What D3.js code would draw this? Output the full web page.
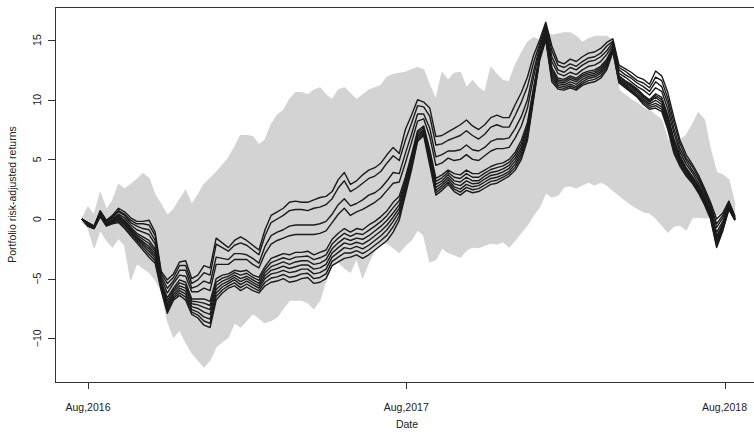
<!DOCTYPE html>
<html>
<head>
<meta charset="utf-8">
<script src="https://cdn.jsdelivr.net/npm/d3@7"></script>
<style>
  html, body { margin: 0; padding: 0; background: #fff; }
  svg { display: block; font-family: "Liberation Sans", Arial, Helvetica, sans-serif; }
</style>
</head>
<body>
<svg id="chart" width="754" height="433"></svg>
<script>
// ---------- DATA (weekly observations starting 2016-07-25) ----------
const startDate = "2016-07-25";
const xTickDates = ["2016-08-01", "2017-08-01", "2018-08-01"];
const xTickLabels = ["Aug,2016", "Aug,2017", "Aug,2018"];
const yTicks = [-10, -5, 0, 5, 10, 15];
const yTickLabels = ["\u221210", "\u22125", "0", "5", "10", "15"];

// envelope of the grey (other) portfolios
const grayUpper = [0,1.0,0.3,2.2,0.8,1.5,2.9,2.5,2.9,3.3,
 3.8,3.4,2.0,1.2,0.3,0.8,1.6,2.4,1.2,2.0,
 2.9,3.4,3.9,4.5,5.1,6.0,7.0,7.0,6.9,6.2,
 6.6,7.9,8.7,9.1,10.0,10.6,10.6,10.4,10.8,11.0,
 10.4,10.0,10.8,11.0,10.5,10.0,10.4,10.8,11.0,11.2,
 11.9,12.1,12.2,12.3,12.5,12.7,12.5,11.2,10.0,12.3,
 11.6,12.2,12.3,11.0,11.6,11.0,10.6,12.7,12.1,11.6,
 11.5,12.9,13.9,14.8,15.2,15.0,15.7,15.4,15.5,15.6,
 15.6,15.3,14.8,15.1,15.3,15.3,15.3,15.0,10.8,10.4,
 10.0,9.7,9.3,9.1,8.7,8.3,6.6,6.6,6.6,7.0,
 7.9,8.9,8.3,5.8,3.9,3.7,3.3,1.2];
const grayLower = [-0.2,-0.75,-2.4,-0.9,-1.75,-2.35,-1.6,-2.2,-5.1,-3.7,
 -4.1,-4.45,-5.1,-6.0,-8.5,-9.9,-9.3,-10.3,-11.2,-11.8,
 -12.4,-11.8,-10.7,-10.3,-9.9,-8.7,-9.05,-8.5,-7.9,-8.3,
 -8.7,-8.5,-8.2,-7.5,-6.8,-6.8,-6.8,-7.0,-7.5,-6.8,
 -5.1,-3.9,-3.6,-4.1,-4.45,-3.3,-4.9,-3.6,-2.6,-2.1,
 -2.0,-2.4,-2.8,-2.2,-1.75,-0.9,-1.35,-3.6,-3.4,-2.4,
 -2.8,-3.0,-3.2,-2.6,-2.35,-2.4,-2.2,-2.0,-2.1,-1.9,
 -2.35,-1.75,-1.1,-0.5,0.35,1.0,2.2,1.85,2.0,2.7,
 2.8,2.6,2.85,3.1,2.85,3.1,2.85,2.4,2.0,1.6,
 1.2,0.9,0.6,0.5,0.1,-0.5,-1.1,-0.6,-0.5,-0.9,
 0.1,0.15,0.1,0.15,0.35,0.35,0.75,-0.1];

// highlighted (black) portfolios
const blackLine1 = [0,-0.3,-0.6,0.7,-0.1,0.3,0.9,0.6,0.1,-0.2,
 -0.2,-0.1,-1.1,-4.4,-5.1,-4.6,-3.6,-3.5,-5.0,-4.7,
 -3.9,-4.1,-1.6,-2.0,-2.4,-1.8,-1.5,-1.8,-2.2,-2.6,
 -0.9,0.3,0.6,0.9,1.4,1.5,1.4,1.4,1.6,1.8,
 1.9,2.3,3.3,3.9,2.9,3.2,3.7,4.1,4.3,4.7,
 5.4,6.0,5.5,7.5,8.7,10.0,9.8,9.3,6.9,7.0,
 7.3,7.6,7.9,8.3,7.8,7.5,7.9,8.5,8.7,8.5,
 8.5,9.6,10.6,11.9,13.7,15.0,16.5,14.5,13.2,13.0,
 13.4,13.2,13.6,13.9,14.0,14.3,14.8,15.1,12.9,12.6,
 12.3,11.9,11.7,11.3,12.4,12.0,10.6,8.5,6.6,5.4,
 4.6,3.7,2.6,1.4,0.0,0.5,1.5,0.2];
const blackLine2 = [0,-0.3,-0.6,0.6,-0.2,0.2,0.7,0.4,-0.1,-0.4,
 -0.4,-0.5,-1.4,-4.6,-5.4,-4.9,-3.9,-3.9,-5.4,-5.1,
 -4.5,-4.7,-2.1,-2.4,-2.7,-2.2,-2.0,-2.2,-2.6,-3.0,
 -1.4,-0.3,0.0,0.3,0.7,0.8,0.8,0.7,0.9,1.0,
 1.2,1.7,2.6,3.2,2.3,2.6,3.0,3.4,3.6,4.0,
 4.7,5.3,4.9,6.6,8.0,9.5,9.4,8.6,6.2,6.3,
 6.6,6.8,7.0,7.4,7.0,6.7,7.1,7.7,7.9,7.7,
 7.7,8.7,9.8,11.1,13.1,14.7,16.3,14.1,12.9,12.7,
 13.0,12.8,13.2,13.5,13.6,13.9,14.5,14.9,12.7,12.4,
 12.0,11.6,11.4,11.0,11.9,11.6,10.1,8.1,6.3,5.1,
 4.4,3.5,2.4,1.2,-0.4,0.3,1.4,0.2];
const blackLine3 = [0,-0.4,-0.6,0.6,-0.2,0.1,0.6,0.3,-0.3,-0.6,
 -0.8,-0.9,-1.8,-4.8,-5.8,-5.2,-4.3,-4.3,-5.8,-5.6,
 -5.2,-5.4,-3.2,-3.3,-3.4,-2.9,-2.9,-3.0,-3.3,-3.7,
 -2.3,-1.4,-1.1,-0.9,-0.6,-0.5,-0.5,-0.5,-0.5,-0.4,
 -0.2,0.4,1.2,1.7,1.1,1.3,1.6,2.0,2.2,2.6,
 3.2,3.9,3.8,5.5,7.1,8.8,8.8,7.6,5.2,5.4,
 5.7,5.7,5.8,6.2,5.8,5.7,6.0,6.5,6.7,6.7,
 6.8,7.6,8.6,10.0,12.4,14.4,16.1,13.6,12.5,12.3,
 12.7,12.5,12.9,13.2,13.3,13.6,14.1,14.8,12.5,12.1,
 11.8,11.4,11.1,10.7,11.5,11.1,9.7,7.6,5.9,4.9,
 4.1,3.3,2.2,1.0,-0.7,0.1,1.3,0.1];
const blackLine4 = [0,-0.4,-0.7,0.5,-0.3,0.0,0.4,0.1,-0.5,-0.9,
 -1.1,-1.3,-2.1,-5.0,-6.2,-5.4,-4.7,-4.8,-6.1,-6.1,
 -5.8,-6.0,-3.8,-3.8,-3.8,-3.4,-3.4,-3.4,-3.8,-4.1,
 -2.9,-2.1,-1.8,-1.6,-1.4,-1.3,-1.3,-1.3,-1.3,-1.2,
 -1.0,-0.3,0.4,0.9,0.3,0.6,0.8,1.1,1.4,1.8,
 2.4,3.0,3.1,4.7,6.4,8.2,8.4,6.9,4.5,4.7,
 5.1,4.9,5.0,5.4,5.0,4.9,5.3,5.7,5.9,5.9,
 6.0,6.8,7.8,9.3,11.9,14.2,15.8,13.2,12.2,12.0,
 12.3,12.1,12.5,12.8,12.9,13.2,13.8,14.6,12.2,11.9,
 11.5,11.1,10.8,10.4,11.0,10.7,9.2,7.2,5.6,4.6,
 3.9,3.0,2.0,0.8,-1.1,-0.2,1.2,0.1];
const blackLine5 = [0,-0.5,-0.7,0.5,-0.4,-0.1,0.3,-0.1,-0.7,-1.2,
 -1.5,-1.8,-2.5,-5.3,-6.6,-5.8,-5.1,-5.3,-6.7,-6.7,
 -6.7,-6.9,-5.0,-4.7,-4.6,-4.3,-4.4,-4.3,-4.7,-4.9,
 -4.0,-3.3,-3.1,-2.9,-3.0,-2.8,-2.8,-2.7,-3.0,-2.8,
 -2.6,-1.7,-1.2,-0.8,-1.1,-0.8,-0.9,-0.5,-0.2,0.2,
 0.7,1.4,1.9,3.5,5.4,7.4,7.8,5.8,3.4,3.7,
 4.1,3.8,3.7,4.1,3.8,3.8,4.1,4.4,4.6,4.7,
 5.0,5.6,6.6,8.1,11.0,13.8,15.6,12.7,11.8,11.7,
 12.0,11.8,12.2,12.4,12.5,12.8,13.4,14.4,12.0,11.6,
 11.3,10.9,10.4,10.0,10.5,10.2,8.7,6.7,5.3,4.3,
 3.6,2.8,1.8,0.6,-1.4,-0.4,1.1,0.0];
const blackLine6 = [0,-0.5,-0.7,0.45,-0.45,-0.15,0.2,-0.2,-0.8,-1.35,
 -1.7,-2.05,-2.7,-5.4,-6.85,-5.95,-5.35,-5.55,-6.9,-6.95,
 -7.05,-7.25,-5.3,-4.95,-4.8,-4.5,-4.7,-4.55,-4.9,-5.15,
 -4.25,-3.65,-3.45,-3.25,-3.4,-3.2,-3.15,-3.1,-3.4,-3.25,
 -3.0,-2.1,-1.6,-1.2,-1.45,-1.2,-1.3,-0.95,-0.6,-0.2,
 0.3,0.95,1.55,3.25,5.15,7.25,7.65,5.6,3.15,3.45,
 3.9,3.5,3.4,3.8,3.5,3.5,3.85,4.15,4.3,4.45,
 4.75,5.35,6.3,7.85,10.85,13.7,15.5,12.5,11.65,11.55,
 11.85,11.65,12.05,12.25,12.35,12.65,13.25,14.35,11.9,11.5,
 11.2,10.8,10.3,9.9,10.35,10.0,8.55,6.5,5.15,4.2,
 3.5,2.7,1.7,0.5,-1.55,-0.5,1.05,0.0];
const blackLine7 = [0,-0.5,-0.7,0.4,-0.5,-0.2,0.1,-0.3,-0.9,-1.5,
 -1.9,-2.3,-2.9,-5.5,-7.1,-6.1,-5.6,-5.8,-7.1,-7.2,
 -7.4,-7.6,-5.6,-5.2,-5.0,-4.7,-5.0,-4.8,-5.1,-5.4,
 -4.5,-4.0,-3.8,-3.6,-3.8,-3.6,-3.5,-3.5,-3.8,-3.7,
 -3.4,-2.5,-2.0,-1.6,-1.8,-1.6,-1.7,-1.4,-1.0,-0.6,
 -0.1,0.5,1.2,3.0,4.9,7.1,7.5,5.4,2.9,3.2,
 3.7,3.2,3.1,3.5,3.2,3.2,3.6,3.9,4.0,4.2,
 4.5,5.1,6.0,7.6,10.7,13.6,15.4,12.3,11.5,11.4,
 11.7,11.5,11.9,12.1,12.2,12.5,13.1,14.3,11.8,11.4,
 11.1,10.7,10.2,9.8,10.2,9.8,8.4,6.3,5.0,4.1,
 3.4,2.6,1.6,0.4,-1.7,-0.6,1.0,0.0];
const blackLine8 = [0,-0.55,-0.75,0.35,-0.5,-0.25,0.0,-0.4,-1.0,-1.6,
 -2.05,-2.5,-3.1,-5.65,-7.3,-6.3,-5.8,-6.05,-7.35,-7.5,
 -7.8,-8.0,-5.9,-5.45,-5.2,-4.9,-5.25,-5.0,-5.3,-5.6,
 -4.75,-4.3,-4.15,-3.95,-4.15,-4.0,-3.85,-3.85,-4.2,-4.1,
 -3.8,-2.85,-2.4,-2.0,-2.15,-1.95,-2.1,-1.8,-1.4,-1.0,
 -0.5,0.15,0.9,2.75,4.7,6.95,7.4,5.15,2.65,3.0,
 3.5,2.95,2.8,3.2,2.95,3.0,3.35,3.65,3.75,3.95,
 4.25,4.85,5.75,7.35,10.5,13.55,15.3,12.1,11.35,11.25,
 11.5,11.3,11.7,11.95,12.05,12.35,12.95,14.25,11.7,11.3,
 10.95,10.55,10.05,9.65,9.95,9.6,8.15,6.1,4.85,4.0,
 3.3,2.5,1.5,0.3,-1.9,-0.7,0.95,-0.05];
const blackLine9 = [0,-0.6,-0.8,0.3,-0.5,-0.3,-0.1,-0.5,-1.1,-1.7,
 -2.2,-2.7,-3.3,-5.8,-7.5,-6.5,-6.0,-6.3,-7.6,-7.8,
 -8.2,-8.4,-6.2,-5.7,-5.4,-5.1,-5.5,-5.2,-5.5,-5.8,
 -5.0,-4.6,-4.5,-4.3,-4.5,-4.4,-4.2,-4.2,-4.6,-4.5,
 -4.2,-3.2,-2.8,-2.4,-2.5,-2.3,-2.5,-2.2,-1.8,-1.4,
 -0.9,-0.2,0.6,2.5,4.5,6.8,7.3,4.9,2.4,2.8,
 3.3,2.7,2.5,2.9,2.7,2.8,3.1,3.4,3.5,3.7,
 4.0,4.6,5.5,7.1,10.3,13.5,15.2,11.9,11.2,11.1,
 11.3,11.1,11.5,11.8,11.9,12.2,12.8,14.2,11.6,11.2,
 10.8,10.4,9.9,9.5,9.7,9.4,7.9,5.9,4.7,3.9,
 3.2,2.4,1.4,0.2,-2.1,-0.8,0.9,-0.1];
const blackLine10 = [0,-0.6,-0.8,0.25,-0.55,-0.35,-0.2,-0.65,-1.25,-1.85,
 -2.4,-2.95,-3.5,-5.9,-7.7,-6.65,-6.2,-6.55,-7.8,-8.05,
 -8.55,-8.75,-6.5,-5.95,-5.6,-5.35,-5.75,-5.45,-5.75,-6.0,
 -5.3,-4.95,-4.85,-4.65,-4.9,-4.8,-4.6,-4.55,-5.0,-4.9,
 -4.6,-3.55,-3.2,-2.85,-2.85,-2.65,-2.9,-2.6,-2.2,-1.8,
 -1.35,-0.65,0.25,2.25,4.3,6.65,7.15,4.7,2.2,2.6,
 3.1,2.5,2.25,2.65,2.45,2.55,2.85,3.15,3.25,3.5,
 3.8,4.35,5.25,6.85,10.15,13.4,15.1,11.7,11.05,10.95,
 11.15,10.95,11.35,11.6,11.7,12.0,12.65,14.1,11.5,11.1,
 10.7,10.3,9.75,9.35,9.5,9.2,7.7,5.7,4.55,3.75,
 3.1,2.3,1.3,0.1,-2.25,-0.9,0.85,-0.1];
const blackLine11 = [0,-0.6,-0.8,0.2,-0.6,-0.4,-0.3,-0.8,-1.4,-2.0,
 -2.6,-3.2,-3.7,-6.0,-7.9,-6.8,-6.4,-6.8,-8.0,-8.3,
 -8.9,-9.1,-6.8,-6.2,-5.8,-5.6,-6.0,-5.7,-6.0,-6.2,
 -5.6,-5.3,-5.2,-5.0,-5.3,-5.2,-5.0,-4.9,-5.4,-5.3,
 -5.0,-3.9,-3.6,-3.3,-3.2,-3.0,-3.3,-3.0,-2.6,-2.2,
 -1.8,-1.1,-0.1,2.0,4.1,6.5,7.0,4.5,2.0,2.4,
 2.9,2.3,2.0,2.4,2.2,2.3,2.6,2.9,3.0,3.3,
 3.6,4.1,5.0,6.6,10.0,13.3,15.0,11.5,10.9,10.8,
 11.0,10.8,11.2,11.4,11.5,11.8,12.5,14.0,11.4,11.0,
 10.6,10.2,9.6,9.2,9.3,9.0,7.5,5.5,4.4,3.6,
 3.0,2.2,1.2,0.0,-2.4,-1.0,0.8,-0.1];

const blackSeries = [blackLine1, blackLine2, blackLine3, blackLine4, blackLine5,
                     blackLine6, blackLine7, blackLine8, blackLine9, blackLine10, blackLine11];

// ---------- CHART ----------
const parse = d3.timeParse("%Y-%m-%d");
const t0 = parse(startDate);
const dates = grayUpper.map((_, i) => d3.timeDay.offset(t0, 7 * i));

const svg = d3.select("#chart");
const plot = { left: 55, top: 7, right: 759, bottom: 382 };

const x = d3.scaleTime()
  .domain([parse(xTickDates[0]), parse(xTickDates[2])])
  .range([88, 724.5]);
const y = d3.scaleLinear().domain([0, 15]).range([219, 40.05]);

svg.append("defs").append("clipPath").attr("id", "clip")
  .append("rect")
  .attr("x", plot.left).attr("y", plot.top)
  .attr("width", plot.right - plot.left).attr("height", plot.bottom - plot.top);

const g = svg.append("g").attr("clip-path", "url(#clip)");

const grayColor = "#d3d3d3";
const blackColor = "#1b1b1b";

// grey band of all portfolios
const band = d3.area()
  .x((d, i) => x(dates[i]))
  .y0((d, i) => y(grayLower[i]))
  .y1((d, i) => y(grayUpper[i]));
g.append("path").datum(grayUpper)
  .attr("d", band).attr("fill", grayColor);

const line = d3.line().x((d, i) => x(dates[i])).y(d => y(d));
[grayUpper, grayLower].forEach(s => {
  g.append("path").datum(s).attr("d", line)
    .attr("fill", "none").attr("stroke", grayColor)
    .attr("stroke-width", 1.2).attr("stroke-linejoin", "round");
});

// black portfolios
blackSeries.forEach(s => {
  g.append("path").datum(s).attr("d", line)
    .attr("fill", "none").attr("stroke", blackColor)
    .attr("stroke-width", 1.4).attr("stroke-linejoin", "round");
});

// box
svg.append("rect")
  .attr("x", plot.left + 0.5).attr("y", plot.top + 0.5)
  .attr("width", plot.right - plot.left).attr("height", plot.bottom - plot.top)
  .attr("fill", "none").attr("stroke", "#333").attr("stroke-width", 1);

// y axis
const yAxis = svg.append("g");
yTicks.forEach((v, i) => {
  const yy = Math.round(y(v)) + 0.5;
  yAxis.append("line").attr("x1", plot.left - 7).attr("x2", plot.left)
    .attr("y1", yy).attr("y2", yy).attr("stroke", "#333");
  yAxis.append("text")
    .attr("transform", `translate(40.5,${y(v)}) rotate(-90)`)
    .attr("text-anchor", "middle").attr("font-size", "10.5px").attr("fill", "#222")
    .text(yTickLabels[i]);
});
yAxis.append("text")
  .attr("transform", `translate(15.5,${(plot.top + plot.bottom) / 2}) rotate(-90)`)
  .attr("text-anchor", "middle").attr("font-size", "10.5px").attr("fill", "#222")
  .text("Portfolio risk-adjusted returns");

// x axis
const xAxis = svg.append("g");
xTickDates.forEach((d, i) => {
  const xx = Math.round(x(parse(d))) + 0.5;
  xAxis.append("line").attr("x1", xx).attr("x2", xx)
    .attr("y1", plot.bottom).attr("y2", plot.bottom + 7).attr("stroke", "#333");
  xAxis.append("text").attr("x", x(parse(d))).attr("y", 411)
    .attr("text-anchor", "middle").attr("font-size", "10.5px").attr("fill", "#222")
    .text(xTickLabels[i]);
});
xAxis.append("text").attr("x", (plot.left + plot.right) / 2).attr("y", 428)
  .attr("text-anchor", "middle").attr("font-size", "10.5px").attr("fill", "#222")
  .text("Date");
</script>
</body>
</html>
